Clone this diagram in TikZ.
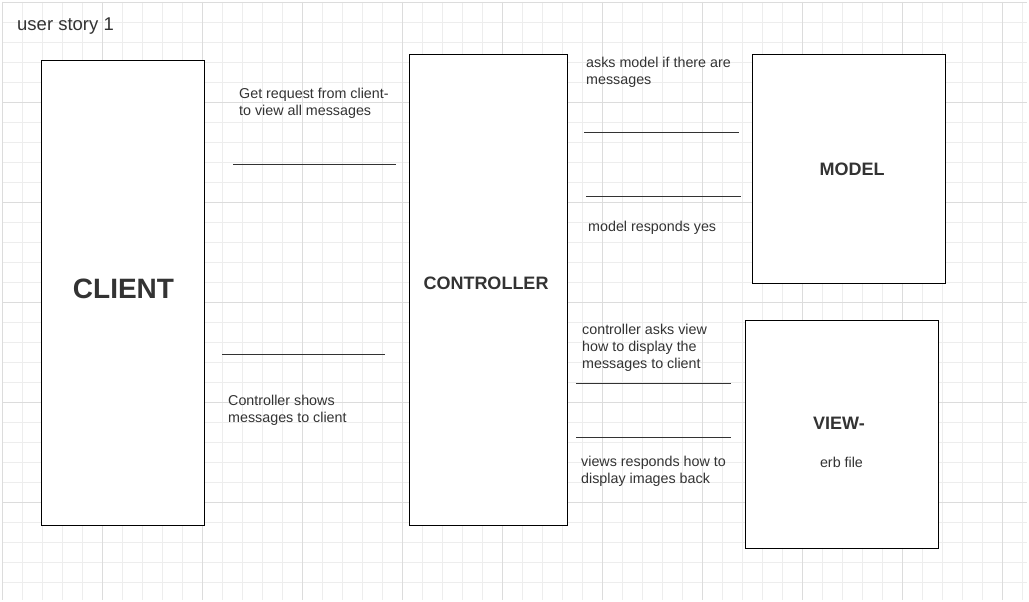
\documentclass[tikz,border=0pt]{standalone}
\usepackage{fontspec}
\setmainfont{Liberation Sans}
\definecolor{ink}{HTML}{333333}
\definecolor{gridminor}{HTML}{EDEDED}
\definecolor{gridmajor}{HTML}{DCDCDC}
\tikzset{
  box/.style={draw=black, line width=1pt, fill=white},
  bar/.style={draw=ink, line width=1pt},
  note/.style={anchor=north west, inner sep=0pt, align=left, text=ink,
    font=\fontsize{14.3}{17}\selectfont},
  title/.style={inner sep=0pt, text=ink, font=\bfseries\fontsize{18}{22}\selectfont}
}
\begin{document}
\begin{tikzpicture}[x=1pt, y=-1pt]
\useasboundingbox (0,0) rectangle (1029,602);
\fill [white] (0,0) rectangle (1029,602);
% grid
\foreach \gx in {2,22,...,1022} \draw [gridminor, line width=0.8pt] (\gx,2) -- (\gx,600);
\foreach \gy in {2,22,...,600} \draw [gridminor, line width=0.8pt] (2,\gy) -- (1027,\gy);
\foreach \gx in {2,102,...,1002} \draw [gridmajor, line width=0.8pt] (\gx,2) -- (\gx,600);
\foreach \gy in {2,102,...,502} \draw [gridmajor, line width=0.8pt] (2,\gy) -- (1027,\gy);
\node (story) [anchor=base west, inner sep=0pt, text=ink, font=\fontsize{18.5}{22}\selectfont] at (17,30.5) {user story 1};
% the four blocks
\draw [box] (41,61) rectangle (204,525);
\node (client) [title, font=\bfseries\fontsize{28}{32}\selectfont] at (123.5,288.5) {CLIENT};
\draw [box] (409,55) rectangle (567,525);
\node (controller) [title] at (486,283.5) {CONTROLLER};
\draw [box] (752,55) rectangle (945,283);
\node (model) [title] at (852,169.5) {MODEL};
\draw [box] (745,320) rectangle (938,548);
\node (view) [title] at (839,423.5) {VIEW-};
\node (erb) [inner sep=0pt, text=ink, font=\fontsize{14.3}{17}\selectfont] at (841.5,462.5) {erb file};
% request lines
\draw [bar] (233,164) coordinate (getA) -- (396,164) coordinate (getB);
\node (getnote) [note] at (239,86) {\strut Get request from client-\\to view all messages};
\draw [bar] (222,354) coordinate (showA) -- (385,354) coordinate (showB);
\node (shownote) [note] at (228,393) {\strut Controller shows\\messages to client};
\draw [bar] (584,132) coordinate (askA) -- (739,132) coordinate (askB);
\node (asknote) [note] at (586,55) {\strut asks model if there are\\messages};
\draw [bar] (586,196) coordinate (yesA) -- (741,196) coordinate (yesB);
\node (yesnote) [note] at (588,219) {\strut model responds yes};
\draw [bar] (576,383) coordinate (howA) -- (731,383) coordinate (howB);
\node (hownote) [note] at (582,322) {\strut controller asks view\\how to display the\\messages to client};
\draw [bar] (576,437) coordinate (backA) -- (731,437) coordinate (backB);
\node (backnote) [note] at (581,454) {\strut views responds how to\\display images back};
\end{tikzpicture}
\end{document}
